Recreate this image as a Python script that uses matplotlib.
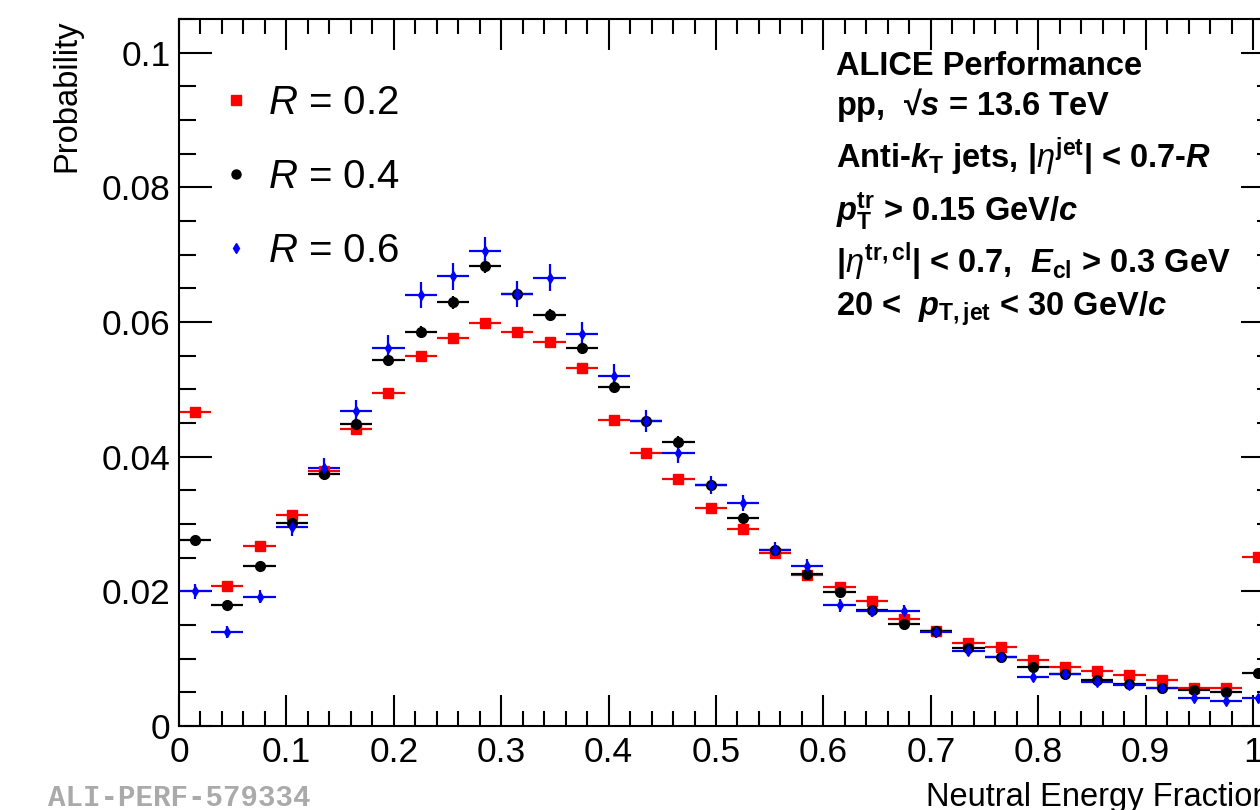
import numpy as np
import matplotlib
matplotlib.use("Agg")
import matplotlib.pyplot as plt
from matplotlib.lines import Line2D
from matplotlib.ticker import MultipleLocator, FuncFormatter

plt.rcParams['font.family'] = ['Liberation Sans', 'DejaVu Sans']
plt.rcParams['mathtext.fontset'] = 'custom'
plt.rcParams['mathtext.rm'] = 'Liberation Sans:bold'
plt.rcParams['mathtext.it'] = 'Liberation Sans:italic'
plt.rcParams['mathtext.bf'] = 'Liberation Sans:bold'
plt.rcParams['mathtext.bfit'] = 'Liberation Sans:bold:italic'

# bin centres (bin width 0.03), last bin is [0.99, 1.02]
nef = [0.015, 0.045, 0.075, 0.105, 0.135, 0.165, 0.195, 0.225, 0.255, 0.285,
       0.315, 0.345, 0.375, 0.405, 0.435, 0.465, 0.495, 0.525, 0.555, 0.585,
       0.615, 0.645, 0.675, 0.705, 0.735, 0.765, 0.795, 0.825, 0.855, 0.885,
       0.915, 0.945, 0.975, 1.005]
half_width = 0.015

prob_r02 = [0.0467, 0.0208, 0.0267, 0.0314, 0.0379, 0.0441, 0.0495, 0.0550, 0.0576, 0.0599,
            0.0585, 0.0570, 0.0532, 0.0455, 0.0406, 0.0367, 0.0324, 0.0293, 0.0257, 0.0225,
            0.0206, 0.0185, 0.0159, 0.0141, 0.0123, 0.0118, 0.0098, 0.0088, 0.0081, 0.0076,
            0.0069, 0.0057, 0.0056, 0.0251]
err_r02 = [0.0005, 0.0003, 0.0004, 0.0004, 0.0005, 0.0005, 0.0005, 0.0006, 0.0006, 0.0006,
           0.0006, 0.0006, 0.0005, 0.0005, 0.0005, 0.0004, 0.0004, 0.0004, 0.0004, 0.0003,
           0.0003, 0.0003, 0.0003, 0.0003, 0.0003, 0.0003, 0.0002, 0.0002, 0.0002, 0.0002,
           0.0002, 0.0002, 0.0002, 0.0004]

prob_r04 = [0.0276, 0.0179, 0.0237, 0.0301, 0.0375, 0.0449, 0.0544, 0.0585, 0.0629, 0.0683,
            0.0641, 0.0610, 0.0562, 0.0503, 0.0453, 0.0422, 0.0358, 0.0309, 0.0262, 0.0226,
            0.0199, 0.0172, 0.0152, 0.0141, 0.0116, 0.0103, 0.0087, 0.0077, 0.0069, 0.0063,
            0.0056, 0.0053, 0.0050, 0.0079]
err_r04 = [0.0006, 0.0005, 0.0006, 0.0007, 0.0007, 0.0008, 0.0009, 0.0009, 0.0010, 0.0010,
           0.0010, 0.0009, 0.0009, 0.0009, 0.0008, 0.0008, 0.0007, 0.0007, 0.0006, 0.0006,
           0.0005, 0.0005, 0.0005, 0.0005, 0.0004, 0.0004, 0.0004, 0.0003, 0.0003, 0.0003,
           0.0003, 0.0003, 0.0003, 0.0003]

prob_r06 = [0.0200, 0.0139, 0.0192, 0.0295, 0.0383, 0.0468, 0.0562, 0.0640, 0.0668, 0.0705,
            0.0642, 0.0666, 0.0582, 0.0520, 0.0453, 0.0405, 0.0358, 0.0331, 0.0262, 0.0238,
            0.0179, 0.0171, 0.0171, 0.0139, 0.0111, 0.0103, 0.0073, 0.0077, 0.0065, 0.0061,
            0.0056, 0.0041, 0.0037, 0.0041]
err_r06 = [0.0011, 0.0009, 0.0010, 0.0013, 0.0015, 0.0016, 0.0018, 0.0019, 0.0020, 0.0021,
           0.0019, 0.0020, 0.0018, 0.0017, 0.0016, 0.0015, 0.0013, 0.0012, 0.0011, 0.0010,
           0.0009, 0.0009, 0.0009, 0.0008, 0.0007, 0.0007, 0.0006, 0.0006, 0.0005, 0.0005,
           0.0005, 0.0004, 0.0004, 0.0004]

W, H = 1260, 810
fig = plt.figure(figsize=(W / 100, H / 100), dpi=100)
# the pad is cut on the right, axis runs to 1.02
ax = fig.add_axes([179 / W, 84 / H, 1.02 * 1074 / W, 707 / H])

series = [
    (prob_r02, err_r02, 's', 7.5, '#ff0000'),
    (prob_r04, err_r04, 'o', 7.0, '#000000'),
    (prob_r06, err_r06, 'd', 5.0, '#0000ff'),
]
for vals, errs, mk, ms, col in series:
    ax.errorbar(nef, vals, xerr=half_width, yerr=errs, fmt=mk, ms=ms, color=col,
                mec=col, mfc=col, elinewidth=1.6, capsize=0, clip_on=True)

ax.set_xlim(0, 1.02)
ax.set_ylim(0, 0.105)
ax.xaxis.set_major_locator(MultipleLocator(0.1))
ax.xaxis.set_minor_locator(MultipleLocator(0.02))
ax.yaxis.set_major_locator(MultipleLocator(0.02))
ax.yaxis.set_minor_locator(MultipleLocator(0.005))
fmt = FuncFormatter(lambda v, p: '%g' % round(v, 4))
ax.xaxis.set_major_formatter(fmt)
ax.yaxis.set_major_formatter(fmt)

ax.tick_params(which='both', direction='in', top=True, right=True, width=1.5,
               labelsize=25.5, colors='black')
ax.tick_params(axis='x', which='major', length=22, pad=7)
ax.tick_params(axis='x', which='minor', length=11)
ax.tick_params(axis='y', which='major', length=24, pad=6)
ax.tick_params(axis='y', which='minor', length=12)
for sp in ax.spines.values():
    sp.set_linewidth(1.5)

ax.set_ylabel('Probability', fontsize=23.5, loc='top', labelpad=14)
fig.text(926 / W, 4 / H, 'Neutral Energy Fraction', fontsize=23.5,
         ha='left', va='baseline')

# legend (markers only)
handles = [Line2D([], [], ls='none', marker='s', ms=7.5, color='#ff0000'),
           Line2D([], [], ls='none', marker='o', ms=6.5, color='#000000'),
           Line2D([], [], ls='none', marker='d', ms=5.0, color='#0000ff')]
labels = ['$R$ = 0.2', '$R$ = 0.4', '$R$ = 0.6']
fig.legend(handles, labels, loc='upper left', bbox_to_anchor=(218 / W, 1 - 84 / H),
           frameon=False, fontsize=29, handlelength=0.9, handletextpad=0.33,
           labelspacing=0.9, borderpad=0, borderaxespad=0)

info = [
    (75, 'ALICE Performance'),
    (115, 'pp,  \u221a$\\mathbfit{s}$ = 13.6 TeV'),
    (168, 'Anti-$\\mathbfit{k}_{\\mathrm{T}}$ jets, |$\\eta^{\\mathrm{jet}}$| < 0.7-$\\mathbfit{R}$'),
    (221, '$\\mathbfit{p}_{\\mathrm{T}}^{\\mathrm{tr}}$ > 0.15 GeV/$\\mathbfit{c}$'),
    (273, '|$\\eta^{\\mathrm{tr,cl}}$| < 0.7,  $\\mathbfit{E}_{\\mathrm{cl}}$ > 0.3 GeV'),
    (316, '20 <  $\\mathbfit{p}_{\\mathrm{T,jet}}$ < 30 GeV/$\\mathbfit{c}$'),
]
for yb, s in info:
    fig.text(836 / W, 1 - yb / H, s, fontsize=23.5, fontweight='bold',
             ha='left', va='baseline')

fig.text(48 / W, 3.5 / H, 'ALI-PERF-579334', family='Liberation Mono',
         fontweight='bold', fontsize=21, color='#aaaaaa', ha='left', va='baseline')

fig.savefig('out.png', dpi=100)
